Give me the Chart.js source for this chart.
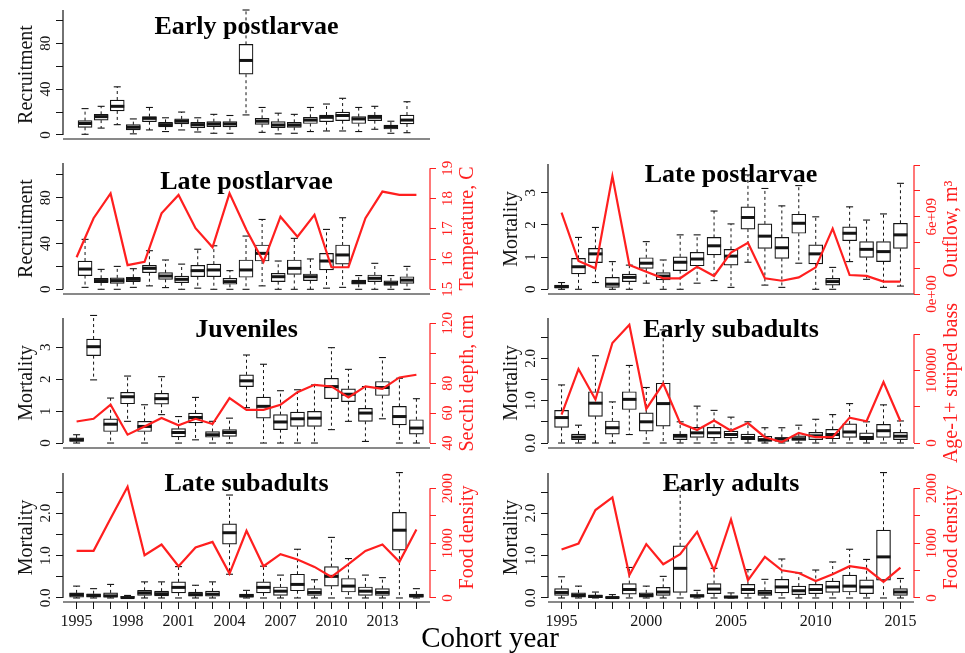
<!DOCTYPE html>
<html>
<head>
<meta charset="utf-8">
<script src="https://cdn.jsdelivr.net/npm/chart.js@4/dist/chart.umd.min.js"></script>
<style>
  html, body { margin: 0; padding: 0; background: #ffffff; }
  #wrap { position: relative; width: 965px; height: 653px; overflow: hidden; background: #ffffff; }
  #wrap canvas { position: absolute; left: 0; top: 0; }
</style>
</head>
<body>
<div id="wrap"></div>
<script>
// ---------------- DATA ----------------
const years = [1995,1996,1997,1998,1999,2000,2001,2002,2003,2004,2005,2006,2007,2008,2009,2010,2011,2012,2013,2014,2015];

// box stats per year: [lower whisker, Q1, median, Q3, upper whisker]
const earlyPostlarvaeRecruitment = [
  [0.6,6.7,10,12.5,23],[6,13,16,18,25],[9,21,25,30.5,42],[1,4.4,6.7,9,14],[4.4,11.6,14.5,16,24],
  [3,7,9,11,15],[4.4,9.6,12,14,20],[2.6,6.4,9,11,15],[1.5,7.3,9.6,11.6,18],[1.5,7,9.6,11.6,17],
  [17.5,53,65,79,109],[2.3,9.3,12,14.5,24],[1,6.4,8.7,11.6,19],[1.5,6.7,8.7,11,18],[3,10,13,15.4,24],
  [3.5,11.6,15.4,17.4,27],[3.5,12.5,17,20,32],[3,10,14,16,24],[5,12.5,15.4,17.4,25],[1.5,5.2,7,8.7,12],
  [2,9.6,13,17.4,29]
];
const latePostlarvaeRecruitment = [
  [1.7,12,17.7,24.7,43.6],[0,5.8,7.6,9.6,17.4],[0,5.2,7.6,10,20],[1.7,6.7,8.7,10.5,18],[3,14.5,18.3,21,33.7],
  [1.5,8.7,11.6,14.5,25.6],[0,5.8,8.7,11.6,22],[1,11,16.3,21,35],[0,11,16.9,22,38],[0,4.4,6.7,9.6,16.3],
  [0,10.5,16.9,25.6,46.5],[3,24.7,31.4,38.7,61],[0,6.7,11,14,24.7],[0,13,18.3,25.6,44.5],[0,7.6,11,13.4,26.5],
  [1,16.9,24.7,31.4,52.3],[1.7,22,30,38.7,62.5],[0,4.4,6,8,12],[0,6.7,9.6,12.5,22.7],[0,3.5,5.2,7.3,12],
  [0,5.2,8,11,20]
];
const temperatureC = [16.06,17.35,18.17,15.80,15.91,17.51,18.12,17.02,16.39,18.17,16.96,15.91,17.40,16.74,17.46,15.73,15.73,17.35,18.23,18.12,18.12];

const latePostlarvaeMortality = [
  [0,0.04,0.08,0.13,0.21],[0,0.48,0.70,0.96,1.61],[0.21,0.83,1.10,1.27,1.92],[0,0.06,0.16,0.37,0.86],[0,0.24,0.37,0.47,0.75],
  [0.19,0.65,0.81,0.98,1.48],[0,0.29,0.41,0.52,0.91],[0,0.58,0.84,1.01,1.69],[0.19,0.73,0.94,1.15,1.69],[0.27,1.07,1.35,1.61,2.43],
  [0.06,0.75,1.03,1.24,2.03],[0.84,1.87,2.23,2.56,3.55],[0.13,1.27,1.65,2.03,3.13],[0.06,0.96,1.29,1.61,2.59],[0.81,1.74,2.05,2.33,3.22],
  [0,0.79,1.10,1.38,2.25],[0,0.13,0.24,0.34,0.68],[0.86,1.51,1.74,1.94,2.56],[0.31,0.99,1.24,1.48,2.15],[0.06,0.86,1.17,1.48,2.34],
  [0.10,1.27,1.69,2.05,3.29]
];
const outflowM3 = [6.31e9,2.56e9,1.99e9,9.15e9,2.25e9,1.73e9,1.22e9,1.22e9,2.12e9,1.40e9,3.21e9,3.98e9,1.22e9,1.03e9,1.29e9,2.07e9,5.07e9,1.47e9,1.40e9,0.96e9,0.96e9];

const juvenilesMortality = [
  [0,0.05,0.10,0.16,0.26],[1.98,2.74,3.02,3.26,4.0],[0,0.36,0.59,0.76,1.41],[0.68,1.23,1.45,1.59,2.10],[0,0.36,0.52,0.68,1.20],
  [0.89,1.22,1.39,1.56,2.08],[0,0.19,0.33,0.45,0.83],[0.10,0.63,0.80,0.94,1.43],[0,0.18,0.26,0.36,0.68],[0,0.21,0.33,0.42,0.78],
  [1.11,1.77,1.95,2.14,2.76],[0,0.78,1.15,1.44,2.47],[0,0.42,0.66,0.89,1.64],[0,0.52,0.76,0.97,1.67],[0,0.52,0.78,0.99,1.82],
  [0.42,1.39,1.77,2.03,2.99],[0.68,1.30,1.53,1.70,2.31],[0.05,0.68,0.94,1.09,1.77],[0.76,1.49,1.74,1.93,2.68],[0,0.57,0.83,1.15,2.03],
  [0,0.28,0.47,0.73,1.39]
];
const secchiDepthCm = [54.4,56.2,65.6,45.6,51.1,56.7,51.8,56.2,52.7,70.0,62.2,62.2,65.6,74.0,78.9,77.8,70.4,77.8,76.2,83.8,85.6];

const earlySubadultsMortality = [
  [0,0.37,0.60,0.77,1.37],[0,0.08,0.14,0.21,0.42],[0,0.63,0.94,1.21,2.06],[0,0.21,0.36,0.52,0.97],[0.20,0.79,1.03,1.21,1.83],
  [0,0.28,0.50,0.71,1.31],[0,0.40,0.93,1.41,2.67],[0,0.08,0.16,0.21,0.50],[0,0.13,0.24,0.37,0.87],[0,0.12,0.24,0.37,0.77],
  [0,0.12,0.20,0.28,0.61],[0,0.08,0.13,0.21,0.50],[0,0.04,0.08,0.16,0.36],[0,0.04,0.10,0.13,0.36],[0,0.06,0.10,0.17,0.42],
  [0,0.08,0.17,0.25,0.56],[0,0.10,0.20,0.32,0.67],[0,0.13,0.26,0.45,0.93],[0,0.08,0.13,0.24,0.50],[0,0.13,0.29,0.44,0.90],
  [0,0.08,0.16,0.25,0.52]
];
const age1StripedBass = [39000,102000,60000,138000,163000,47000,82000,27500,18000,31000,17000,27500,8000,1400,14000,8000,8000,35000,30000,84000,30000];

const lateSubadultsMortality = [
  [0,0.02,0.08,0.12,0.28],[0,0.02,0.06,0.10,0.22],[0,0.02,0.05,0.12,0.32],[0,0,0.01,0.03,0.06],[0,0.06,0.12,0.18,0.38],
  [0,0.05,0.10,0.16,0.38],[0,0.12,0.25,0.38,0.74],[0,0.04,0.08,0.14,0.30],[0,0.04,0.09,0.16,0.38],[0.56,1.27,1.54,1.75,2.43],
  [0,0.02,0.05,0.09,0.18],[0,0.12,0.25,0.38,0.75],[0,0.06,0.16,0.26,0.54],[0,0.17,0.32,0.56,1.15],[0,0.06,0.13,0.22,0.43],
  [0,0.28,0.51,0.74,1.43],[0,0.14,0.28,0.46,0.93],[0,0.06,0.16,0.26,0.54],[0,0.06,0.13,0.22,0.48],[0,1.13,1.60,2.02,2.96],
  [0,0.02,0.05,0.09,0.22]
];
const foodDensityLateSubadults = [860,860,1451,2030,780,976,579,920,1024,445,1226,579,799,701,567,384,616,860,976,659,1250];

const earlyAdultsMortality = [
  [0,0.06,0.13,0.22,0.50],[0,0.02,0.06,0.12,0.28],[0,0.01,0.04,0.06,0.14],[0,0,0.01,0.02,0.08],[0,0.09,0.20,0.34,0.72],
  [0,0.02,0.06,0.12,0.28],[0,0.06,0.14,0.25,0.51],[0,0.13,0.70,1.23,2.60],[0,0.02,0.05,0.08,0.18],[0,0.10,0.21,0.34,0.70],
  [0,0.01,0.02,0.05,0.12],[0,0.10,0.20,0.32,0.67],[0,0.06,0.12,0.18,0.44],[0,0.12,0.26,0.44,0.92],[0,0.08,0.17,0.28,0.59],
  [0,0.10,0.20,0.32,0.66],[0,0.13,0.26,0.40,0.85],[0,0.14,0.28,0.54,1.15],[0,0.10,0.26,0.43,0.91],[0,0.42,0.97,1.60,2.96],
  [0,0.06,0.14,0.22,0.46]
];
const foodDensityEarlyAdults = [884,994,1604,1835,415,982,616,799,1207,506,1433,323,750,506,457,311,433,579,537,293,555];

// tick values and tick labels
const recruitTicks = [0,20,40,60,80,100];
const recruitTickLabels = ['0','','40','','80',''];
const mortTicksA = [0,1,2,3];
const mortTickLabelsA = ['0','1','2','3'];
const mortTicksB = [0,0.5,1,1.5,2,2.5];
const mortTickLabelsB = ['0.0','','1.0','','2.0',''];
const tempTicks = [15,16,17,18,19];
const tempTickLabels = ['15','16','17','18','19'];
const outflowTicks = [0,2e9,4e9,6e9,8e9,1e10];
const outflowTickLabels = ['0e+00','','','6e+09','',''];
const secchiTicks = [40,60,80,100,120];
const secchiTickLabels = ['40','60','80','','120'];
const bassTicks = [0,50000,100000,150000];
const bassTickLabels = ['0','','100000',''];
const foodTicks = [0,500,1000,1500,2000];
const foodTickLabels = ['0','','1000','','2000'];
const xLabelsLeft = [1995,1998,2001,2004,2007,2010,2013];
const xLabelsRight = [1995,2000,2005,2010,2015];

// ---------------- DRAWING ----------------
const SERIF = '"Liberation Serif", "Times New Roman", serif';
const RED = '#ff1f1f';
const INK = '#141414';

function vtext(ctx, text, x, y, font, color) {
  ctx.save();
  ctx.translate(x, y);
  ctx.rotate(-Math.PI / 2);
  ctx.font = font;
  ctx.fillStyle = color;
  ctx.textAlign = 'center';
  ctx.textBaseline = 'alphabetic';
  ctx.fillText(text, 0, 0);
  ctx.restore();
}
function seg(ctx, x1, y1, x2, y2) {
  ctx.beginPath(); ctx.moveTo(x1, y1); ctx.lineTo(x2, y2); ctx.stroke();
}

function makeDeco(cfg) {
  return {
    id: 'rdeco',
    afterDatasetDraw(chart, args) {
      if (args.meta.type !== 'bar') return;
      const ds = chart.data.datasets[args.index];
      const xs = chart.scales[ds.xAxisID];
      const ys = chart.scales.y;
      const ctx = chart.ctx;
      ctx.save();
      ctx.strokeStyle = INK;
      cfg.boxes.forEach((b, i) => {
        const x = xs.getPixelForValue(years[i]);
        const lo = ys.getPixelForValue(b[0]);
        const q1 = ys.getPixelForValue(b[1]);
        const md = ys.getPixelForValue(b[2]);
        const q3 = ys.getPixelForValue(b[3]);
        const hi = ys.getPixelForValue(b[4]);
        ctx.lineWidth = 1;
        ctx.setLineDash([3, 3]);
        if (hi < q3 - 0.5) seg(ctx, x, q3, x, hi);
        if (lo > q1 + 0.5) seg(ctx, x, q1, x, lo);
        ctx.setLineDash([]);
        ctx.lineWidth = 1.1;
        seg(ctx, x - 3.5, hi, x + 3.5, hi);
        seg(ctx, x - 3.5, lo, x + 3.5, lo);
        ctx.lineWidth = 3;
        seg(ctx, x - 7, md, x + 7, md);
      });
      ctx.restore();
    },
    afterDraw(chart) {
      const ctx = chart.ctx;
      const a = chart.chartArea;
      const ys = chart.scales.y;
      ctx.save();
      ctx.strokeStyle = INK;
      ctx.lineWidth = 1.2;
      seg(ctx, a.left, a.bottom, a.right, a.bottom);
      seg(ctx, a.left, a.top, a.left, ys.getPixelForValue(cfg.yTicks[0]));
      cfg.yTicks.forEach((v, i) => {
        const t = cfg.yTickLabels[i];
        if (t) vtext(ctx, t, a.left - 13, ys.getPixelForValue(v), '15px ' + SERIF, INK);
      });
      vtext(ctx, cfg.yTitle, a.left - 31, (a.top + a.bottom) / 2, '20px ' + SERIF, INK);
      if (cfg.line) {
        const y1 = chart.scales.y1;
        ctx.strokeStyle = RED;
        ctx.lineWidth = 1.2;
        seg(ctx, a.right, y1.getPixelForValue(cfg.y1Ticks[0]), a.right, y1.getPixelForValue(cfg.y1Ticks[cfg.y1Ticks.length - 1]));
        cfg.y1Ticks.forEach((v, i) => {
          const t = cfg.y1TickLabels[i];
          if (t) vtext(ctx, t, a.right + 22, y1.getPixelForValue(v), '15px ' + SERIF, RED);
        });
        vtext(ctx, cfg.y1Title, a.right + 43, (a.top + a.bottom) / 2, '20px ' + SERIF, RED);
      }
      ctx.fillStyle = '#000';
      ctx.font = 'bold 26px ' + SERIF;
      ctx.textAlign = 'center';
      ctx.textBaseline = 'alphabetic';
      ctx.fillText(cfg.title, (a.left + a.right) / 2, cfg.titleY);
      if (cfg.footer) {
        ctx.font = '29px ' + SERIF;
        ctx.fillStyle = '#000';
        ctx.fillText(cfg.footer, 490, 647);
      }
      ctx.restore();
    }
  };
}

function makePanel(cfg) {
  const canvas = document.createElement('canvas');
  canvas.width = 965; canvas.height = 653;
  document.getElementById('wrap').appendChild(canvas);
  const A = cfg.area;
  const hasLine = !!cfg.line;
  const datasets = [{
    type: 'bar',
    label: cfg.title,
    data: years.map((yr, i) => ({ x: yr, y: [cfg.boxes[i][1], cfg.boxes[i][3]] })),
    xAxisID: cfg.boxAxis,
    yAxisID: 'y',
    backgroundColor: '#ffffff',
    borderColor: INK,
    borderWidth: 1.2,
    borderSkipped: false,
    barThickness: 14,
    grouped: false,
    order: 1
  }];
  if (hasLine) {
    datasets.push({
      type: 'line',
      label: cfg.y1Title,
      data: years.map((yr, i) => ({ x: yr, y: cfg.line[i] })),
      xAxisID: 'x',
      yAxisID: 'y1',
      borderColor: RED,
      borderWidth: 2.2,
      pointRadius: 0,
      tension: 0,
      fill: false,
      order: 0
    });
  }
  const showX = !!cfg.xLabels;
  const scales = {
    x: {
      type: 'linear', min: 1994.2, max: 2015.8, offset: false, position: 'bottom', display: showX,
      grid: { offset: false, drawOnChartArea: false, drawTicks: true, tickLength: 7, color: INK, lineWidth: 1 },
      border: { display: false },
      ticks: {
        display: true, autoSkip: false, maxRotation: 0, minRotation: 0, padding: 3,
        font: { family: SERIF, size: 16 }, color: INK,
        callback: (v) => (showX && cfg.xLabels.includes(v)) ? String(v) : ''
      },
      afterBuildTicks: (s) => { s.ticks = years.map(v => ({ value: v })); },
      afterFit: (s) => { s.height = showX ? 30 : 0; }
    },
    y: {
      type: 'linear', position: 'left', min: cfg.yMin, max: cfg.yMax,
      grid: { drawOnChartArea: false, drawTicks: true, tickLength: 7, color: INK, lineWidth: 1 },
      border: { display: false },
      ticks: { display: false },
      afterBuildTicks: (s) => { s.ticks = cfg.yTicks.map(v => ({ value: v })); },
      afterFit: (s) => { s.width = 10; }
    }
  };
  if (cfg.boxAxis === 'xb') {
    scales.xb = { type: 'linear', axis: 'x', min: 1993.63, max: 2016.43, offset: false, display: false, grid: { offset: false },
      afterFit: (s) => { s.height = 0; } };
  }
  if (hasLine) {
    scales.y1 = {
      type: 'linear', position: 'right', min: cfg.y1Min, max: cfg.y1Max,
      grid: { drawOnChartArea: false, drawTicks: true, tickLength: 6, color: RED, lineWidth: 1 },
      border: { display: false },
      ticks: { display: false },
      afterBuildTicks: (s) => { s.ticks = cfg.y1Ticks.map(v => ({ value: v })); },
      afterFit: (s) => { s.width = 10; }
    };
  }
  new Chart(canvas, {
    type: 'bar',
    data: { datasets },
    options: {
      responsive: false,
      animation: false,
      devicePixelRatio: 1,
      layout: {
        autoPadding: false,
        padding: {
          left: A.l - 10,
          right: 965 - A.r - (hasLine ? 10 : 0),
          top: A.t,
          bottom: 653 - A.b - (showX ? 30 : 0)
        }
      },
      plugins: { legend: { display: false }, tooltip: { enabled: false } },
      scales
    },
    plugins: [makeDeco(cfg)]
  });
}

makePanel({
  title: 'Early postlarvae', titleY: 33.5, area: { l: 63, r: 430, t: 10, b: 139 },
  boxes: earlyPostlarvaeRecruitment, boxAxis: 'xb',
  yMin: -3.5, yMax: 109, yTicks: recruitTicks, yTickLabels: recruitTickLabels, yTitle: 'Recruitment'
});
makePanel({
  title: 'Late postlarvae', titleY: 189, area: { l: 63, r: 430, t: 163, b: 294 },
  boxes: latePostlarvaeRecruitment, boxAxis: 'xb',
  yMin: -4.1, yMax: 110.3, yTicks: recruitTicks, yTickLabels: recruitTickLabels, yTitle: 'Recruitment',
  line: temperatureC, y1Min: 14.845, y1Max: 19.175, y1Ticks: tempTicks, y1TickLabels: tempTickLabels, y1Title: 'Temperature, C'
});
makePanel({
  title: 'Late postlarvae', titleY: 181.5, area: { l: 548, r: 914, t: 164, b: 294 },
  boxes: latePostlarvaeMortality, boxAxis: 'x',
  yMin: -0.146, yMax: 3.89, yTicks: mortTicksA, yTickLabels: mortTickLabelsA, yTitle: 'Mortality',
  line: outflowM3, y1Min: 0, y1Max: 1.009e10, y1Ticks: outflowTicks, y1TickLabels: outflowTickLabels, y1Title: 'Outflow, m\u00B3'
});
makePanel({
  title: 'Juveniles', titleY: 336.5, area: { l: 63, r: 430, t: 318, b: 448 },
  boxes: juvenilesMortality, boxAxis: 'x',
  yMin: -0.156, yMax: 3.92, yTicks: mortTicksA, yTickLabels: mortTickLabelsA, yTitle: 'Mortality',
  line: secchiDepthCm, y1Min: 36.7, y1Max: 123.5, y1Ticks: secchiTicks, y1TickLabels: secchiTickLabels, y1Title: 'Secchi depth, cm'
});
makePanel({
  title: 'Early subadults', titleY: 336.5, area: { l: 548, r: 914, t: 318, b: 448 },
  boxes: earlySubadultsMortality, boxAxis: 'x',
  yMin: -0.118, yMax: 2.95, yTicks: mortTicksB, yTickLabels: mortTickLabelsB, yTitle: 'Mortality',
  line: age1StripedBass, y1Min: -6880, y1Max: 172400, y1Ticks: bassTicks, y1TickLabels: bassTickLabels, y1Title: 'Age-1+ striped bass'
});
makePanel({
  title: 'Late subadults', titleY: 491, area: { l: 63, r: 430, t: 473, b: 602 },
  boxes: lateSubadultsMortality, boxAxis: 'x',
  yMin: -0.095, yMax: 2.95, yTicks: mortTicksB, yTickLabels: mortTickLabelsB, yTitle: 'Mortality',
  line: foodDensityLateSubadults, y1Min: -73, y1Max: 2280, y1Ticks: foodTicks, y1TickLabels: foodTickLabels, y1Title: 'Food density',
  xLabels: xLabelsLeft
});
makePanel({
  title: 'Early adults', titleY: 490.5, area: { l: 548, r: 914, t: 473, b: 602 },
  boxes: earlyAdultsMortality, boxAxis: 'x',
  yMin: -0.095, yMax: 2.95, yTicks: mortTicksB, yTickLabels: mortTickLabelsB, yTitle: 'Mortality',
  line: foodDensityEarlyAdults, y1Min: -73, y1Max: 2280, y1Ticks: foodTicks, y1TickLabels: foodTickLabels, y1Title: 'Food density',
  xLabels: xLabelsRight, footer: 'Cohort year'
});
</script>
</body>
</html>
